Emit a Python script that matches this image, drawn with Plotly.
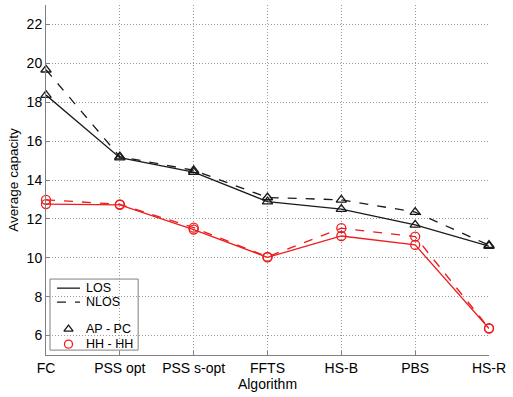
import plotly.graph_objects as go

algorithms = ["FC", "PSS opt", "PSS s-opt", "FFTS", "HS-B", "PBS", "HS-R"]
ap_pc_los = [18.37, 15.15, 14.41, 12.89, 12.5, 11.69, 10.6]
ap_pc_nlos = [19.67, 15.2, 14.5, 13.1, 12.98, 12.35, 10.65]
hh_hh_los = [12.76, 12.72, 11.45, 10.02, 11.12, 10.66, 6.36]
hh_hh_nlos = [12.98, 12.75, 11.55, 10.05, 11.52, 11.09, 6.38]
y_ticks = [6, 8, 10, 12, 14, 16, 18, 20, 22]
legend_labels = ["LOS", "NLOS", "AP - PC", "HH - HH"]

xs = list(range(len(algorithms)))
BLACK = "#1a1a1a"
RED = "#ee1c1c"

fig = go.Figure()


def add(vals, color, dash, symbol):
    fig.add_trace(go.Scatter(
        x=xs, y=vals, mode="lines+markers", cliponaxis=False,
        line=dict(color=color, width=1.3, dash=dash),
        marker=dict(symbol=symbol, size=9, color=color,
                    line=dict(color=color, width=1.3)),
        showlegend=False, hoverinfo="skip"))


add(ap_pc_los, BLACK, "solid", "triangle-up-open")
add(ap_pc_nlos, BLACK, "dash", "triangle-up-open")
add(hh_hh_los, RED, "solid", "circle-open")
add(hh_hh_nlos, RED, "dash", "circle-open")

# ---- manual legend (paper-fraction coordinates of the plot area) ----
box = dict(x0=0.009, x1=0.208, y0=0.014, y1=0.217)
rows_y = [0.191, 0.151, 0.074, 0.031]
line_x = (0.0248, 0.0767)
text_x = 0.0858
marker_x = 0.0508

fig.add_shape(type="rect", xref="paper", yref="paper", **box,
              line=dict(color="#808080", width=1), fillcolor="white", layer="between")
for yv, dash in zip(rows_y[:2], ["solid", "dash"]):
    fig.add_shape(type="line", xref="paper", yref="paper",
                  x0=line_x[0], x1=line_x[1], y0=yv, y1=yv,
                  line=dict(color=BLACK, width=1.3, dash=dash), layer="above")
for yv, label in zip(rows_y, legend_labels):
    fig.add_annotation(x=text_x, y=yv, xref="paper", yref="paper", text=label,
                       showarrow=False, xanchor="left", yanchor="middle",
                       font=dict(size=12.5, color="#000000"))
fig.add_trace(go.Scatter(
    x=[marker_x, marker_x], y=rows_y[2:], xaxis="x2", yaxis="y2", mode="markers",
    marker=dict(symbol=["triangle-up-open", "circle-open"], size=8,
                color=[BLACK, RED], line=dict(width=1.3)),
    showlegend=False, hoverinfo="skip", cliponaxis=False))

font_family = "Liberation Sans, Arial, sans-serif"
grid = dict(showgrid=True, gridcolor="#9a9a9a", griddash="1px,2px", gridwidth=1,
            showline=True, linecolor="#808080", linewidth=1,
            ticks="inside", ticklen=4, tickcolor="#808080",
            zeroline=False, automargin=False)

fig.update_layout(
    width=513, height=397,
    margin=dict(l=46, r=24, t=5, b=42),
    paper_bgcolor="white", plot_bgcolor="white",
    font=dict(family=font_family, size=13, color="#000000"),
    showlegend=False,
    xaxis=dict(
        range=[0, 6], tickmode="array", tickvals=xs, ticktext=algorithms,
        title=dict(text="Algorithm", font=dict(size=14), standoff=0),
        tickfont=dict(size=14), **grid,
    ),
    yaxis=dict(
        range=[5, 23], tickmode="array", tickvals=y_ticks,
        title=dict(text="Average capacity", font=dict(size=13.5), standoff=4),
        tickfont=dict(size=14), **grid,
    ),
    xaxis2=dict(overlaying="x", range=[0, 1], visible=False, fixedrange=True),
    yaxis2=dict(overlaying="y", range=[0, 1], visible=False, fixedrange=True),
)

fig.write_html("out.html", config={"displayModeBar": False},
               post_script="document.body.style.margin='0';document.body.style.padding='0';")
